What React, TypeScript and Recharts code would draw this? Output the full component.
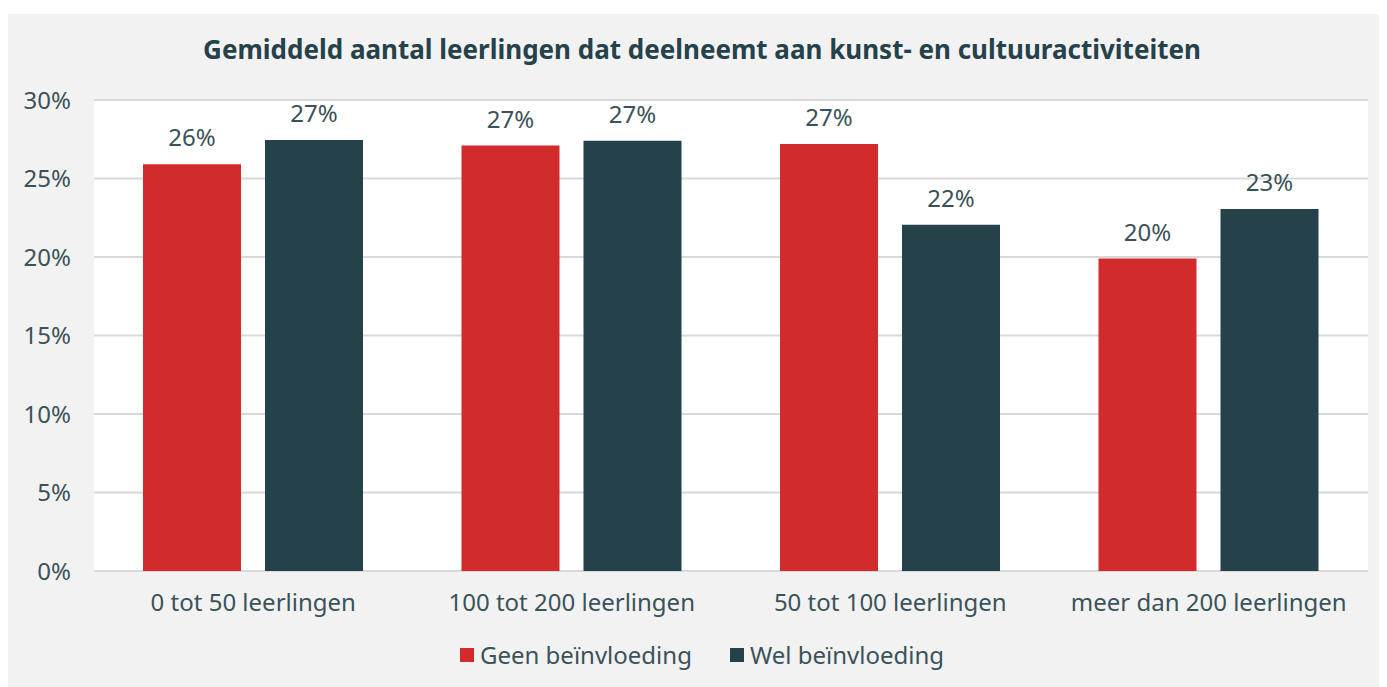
import { BarChart, Bar, XAxis, YAxis, CartesianGrid, LabelList } from "recharts";

const categories = ["0 tot 50 leerlingen", "100 tot 200 leerlingen", "50 tot 100 leerlingen", "meer dan 200 leerlingen"];
const geenValues = [25.9, 27.1, 27.2, 19.9];
const welValues = [27.45, 27.4, 22.05, 23.05];
const yTicks = [0, 5, 10, 15, 20, 25, 30];

const data = categories.map((name, i) => ({ name, geen: geenValues[i], wel: welValues[i] }));

const RED = "#d22b2b";
const DARK = "#25424a";
const TEXT = "#3a5259";
const FONT = "'Noto Sans', 'Open Sans', sans-serif";

const pct = (v: any) => `${Math.round(Number(v))}%`;

export default function App() {
  return (
    <div style={{ position: "relative", width: 1373, height: 673, marginTop: 6, marginLeft: -1, background: "#f2f2f2", fontFamily: FONT }}>
      <div style={{ position: "absolute", top: 17, left: 0, width: 1390, textAlign: "center", fontWeight: 700, fontSize: 26, color: "#25424a" }}>
        Gemiddeld aantal leerlingen dat deelneemt aan kunst- en cultuuractiviteiten
      </div>
      <BarChart width={1373} height={673} data={data} margin={{ top: 86, right: 12, left: 0, bottom: 0 }} barSize={98} barGap={24}>
        <CartesianGrid vertical={false} stroke="#d9d9d9" strokeWidth={2} fill="#ffffff" />
        <XAxis dataKey="name" axisLine={false} tickLine={false} height={116} tickMargin={17} tick={{ fill: TEXT, fontSize: 24, fontFamily: FONT }} />
        <YAxis width={87} domain={[0, 30]} ticks={yTicks} tickFormatter={(v) => `${v}%`} axisLine={false} tickLine={false} tickMargin={17} tick={{ fill: TEXT, fontSize: 24, fontFamily: FONT }} />
        <Bar dataKey="geen" fill={RED} isAnimationActive={false}>
          <LabelList dataKey="geen" position="top" offset={18} formatter={pct} fill={TEXT} fontSize={24} fontFamily={FONT} />
        </Bar>
        <Bar dataKey="wel" fill={DARK} isAnimationActive={false}>
          <LabelList dataKey="wel" position="top" offset={18} formatter={pct} fill={TEXT} fontSize={24} fontFamily={FONT} />
        </Bar>
      </BarChart>
      <div style={{ position: "absolute", top: 624, left: 0, width: 1390, display: "flex", justifyContent: "center", gap: 38, fontSize: 24, color: TEXT }}>
        <span style={{ display: "flex", alignItems: "center" }}>
          <span style={{ width: 14, height: 14, background: RED, marginRight: 6, display: "inline-block" }} />Geen beïnvloeding
        </span>
        <span style={{ display: "flex", alignItems: "center" }}>
          <span style={{ width: 14, height: 14, background: DARK, marginRight: 6, display: "inline-block" }} />Wel beïnvloeding
        </span>
      </div>
    </div>
  );
}
